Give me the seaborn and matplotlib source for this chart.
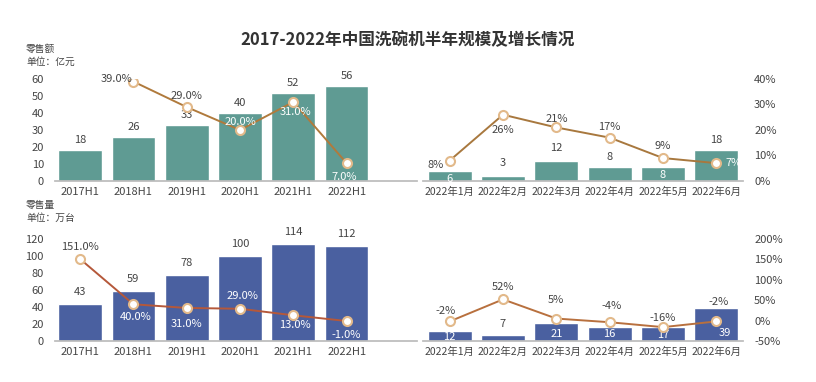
import numpy as np
import pandas as pd
import matplotlib
matplotlib.use('Agg')
import matplotlib.pyplot as plt
import seaborn as sns

# data
half_years = ['2017H1', '2018H1', '2019H1', '2020H1', '2021H1', '2022H1']
months = ['2022年1月', '2022年2月', '2022年3月', '2022年4月', '2022年5月', '2022年6月']

sales_half = [18, 26, 33, 40, 52, 56]              # 零售额 亿元
sales_half_growth = [np.nan, 39.0, 29.0, 20.0, 31.0, 7.0]
sales_month = [6, 3, 12, 8, 8, 18]
sales_month_growth = [8, 26, 21, 17, 9, 7]

units_half = [43, 59, 78, 100, 114, 112]            # 零售量 万台
units_half_growth = [151.0, 40.0, 31.0, 29.0, 13.0, -1.0]
units_month = [12, 7, 21, 16, 17, 39]
units_month_growth = [-2, 52, 5, -4, -16, -2]

sns.set_theme(style='white')
plt.rcParams['font.family'] = ['Noto Sans CJK SC', 'DejaVu Sans']
plt.rcParams['axes.unicode_minus'] = False

TEAL = '#5f9b93'
BLUE = '#4a60a0'
TXT = '#444444'
FS = 8

fig = plt.figure(figsize=(8.16, 3.82), dpi=100)
fig.text(0.5, 0.895, '2017-2022年中国洗碗机半年规模及增长情况', ha='center', va='center',
         fontsize=12, fontweight='bold', color='#333333')


def panel(rect, cats, bars, growth, color, line_color, ylim, yticks, y2lim, y2ticks,
          show_left, show_right, bar_lab, line_lab, fmt, xfs):
    ax = fig.add_axes(rect[:4])
    df = pd.DataFrame({'cat': cats, 'val': bars})
    sns.barplot(data=df, x='cat', y='val', color=color, width=0.82, saturation=1, ax=ax)
    ax.set_xlim(rect[4], rect[5])
    ax.set_ylim(*ylim)
    ax.set_xlabel('')
    ax.set_ylabel('')
    for s in ['top', 'right', 'left']:
        ax.spines[s].set_visible(False)
    ax.spines['bottom'].set_color('#bbbbbb')
    ax.tick_params(axis='x', length=0, pad=4, labelsize=xfs, labelcolor=TXT)
    ax.tick_params(axis='y', length=0, pad=8, labelsize=FS, labelcolor=TXT)
    if show_left:
        ax.set_yticks(yticks)
    else:
        ax.set_yticks([])

    ax2 = ax.twinx()
    xs = np.arange(len(cats))
    sns.lineplot(x=xs, y=growth, color=line_color, lw=1.4, ax=ax2, legend=False)
    ax2.plot(xs, growth, 'o', ms=6.5, mfc='white', mec='#e2b98a', mew=1.5)
    ax2.set_ylim(*y2lim)
    ax2.set_xlim(rect[4], rect[5])
    for s in ['top', 'right', 'left', 'bottom']:
        ax2.spines[s].set_visible(False)
    if show_right:
        ax2.set_yticks(y2ticks)
        ax2.set_yticklabels([f'{t}%' for t in y2ticks])
        ax2.tick_params(axis='y', length=0, pad=8, labelsize=FS, labelcolor=TXT)
    else:
        ax2.set_yticks([])

    for i, v in enumerate(bars):
        dx, dy, white = bar_lab[i]
        ax.annotate(str(v), (i, v), xytext=(dx, dy), textcoords='offset pixels',
                    ha='center', va='center', fontsize=FS,
                    color='white' if white else TXT)
    for i, g in enumerate(growth):
        if np.isnan(g):
            continue
        dx, dy, white = line_lab[i]
        ax2.annotate(fmt.format(g), (i, g), xytext=(dx, dy), textcoords='offset pixels',
                     ha='center', va='center', fontsize=FS,
                     color='white' if white else TXT)
    return ax, ax2


# label offsets in pixels: (dx, dy, white text)
top_left_bar = [(0, 10, 0)] * 6
top_left_line = [None, (-17, 3, 0), (0, 11, 0), (0, 8, 1), (2, -10, 1), (-2, -14, 1)]
top_right_bar = [(0, -8, 1), (0, 13, 0), (0, 13, 0), (0, 10, 0), (0, -8, 1), (0, 10, 0)]
top_right_line = [(-14, -4, 0), (0, -15, 0), (0, 8, 0), (0, 11, 0), (0, 12, 0), (17, 0, 1)]

bot_left_bar = [(0, 12, 0)] * 6
bot_left_line = [(0, 12, 0), (2, -13, 1), (0, -16, 1), (2, 13, 1), (2, -10, 1), (0, -14, 1)]
bot_right_bar = [(0, -6, 1), (0, 11, 0), (0, -11, 1), (0, -7, 1), (0, -8, 1), (9, -25, 1)]
bot_right_line = [(-4, 10, 0), (0, 12, 0), (0, 19, 0), (2, 16, 0), (0, 9, 0), (2, 19, 0)]

# rect: left, bottom, width, height, xmin, xmax
top_l = [55 / 816, 201 / 382, 362 / 816, 102 / 382, -0.47, 6.32]
top_r = [423 / 816, 201 / 382, 320 / 816, 102 / 382, -0.5, 5.5]
bot_l = [55 / 816, 41 / 382, 362 / 816, 102 / 382, -0.47, 6.32]
bot_r = [423 / 816, 41 / 382, 320 / 816, 102 / 382, -0.5, 5.5]

pct_top = [0, 10, 20, 30, 40]
pct_bot = [-50, 0, 50, 100, 150, 200]

panel(top_l, half_years, sales_half, sales_half_growth, TEAL, '#b07a3c',
      (0, 60), range(0, 61, 10), (0, 40), pct_top, True, False,
      top_left_bar, top_left_line, '{:.1f}%', 8)
panel(top_r, months, sales_month, sales_month_growth, TEAL, '#a8783e',
      (0, 60), range(0, 61, 10), (0, 40), pct_top, False, True,
      top_right_bar, top_right_line, '{:.0f}%', 7.5)
panel(bot_l, half_years, units_half, units_half_growth, BLUE, '#b5583a',
      (0, 120), range(0, 121, 20), (-50, 200), pct_bot, True, False,
      bot_left_bar, bot_left_line, '{:.1f}%', 8)
panel(bot_r, months, units_month, units_month_growth, BLUE, '#b8703e',
      (0, 120), range(0, 121, 20), (-50, 200), pct_bot, False, True,
      bot_right_bar, bot_right_line, '{:.0f}%', 7.5)

fig.text(26 / 816, 1 - 55 / 382, '零售额\n单位：亿元', ha='left', va='center',
         fontsize=7, color=TXT, linespacing=1.4)
fig.text(26 / 816, 1 - 211 / 382, '零售量\n单位：万台', ha='left', va='center',
         fontsize=7, color=TXT, linespacing=1.4)

fig.savefig('out.png', dpi=100)
